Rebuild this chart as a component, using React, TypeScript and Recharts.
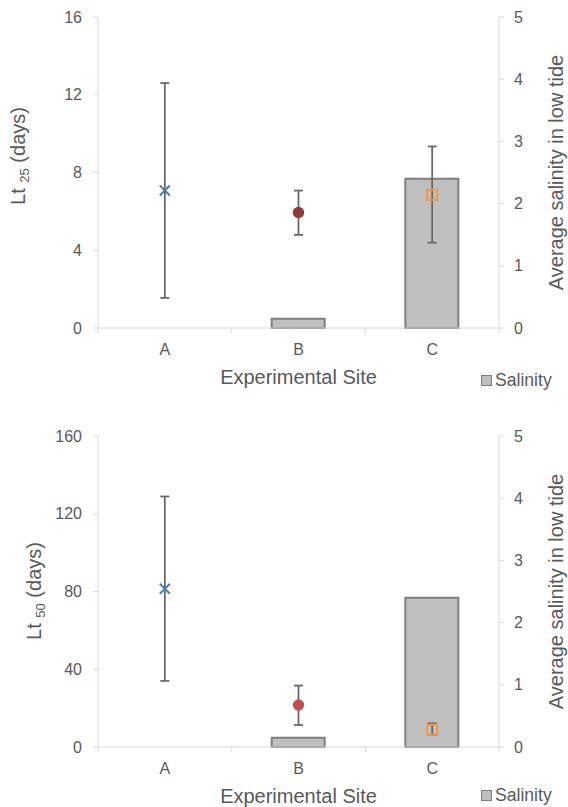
import { ComposedChart, Bar, Line, XAxis, YAxis, ErrorBar, Label, Legend } from 'recharts'

const SITES = ['A', 'B', 'C']
const SALINITY = [0, 0.15, 2.4]

const LT25 = [7.07, 5.94, 6.85]
const LT25_LOW = [1.55, 4.79, 4.39]
const LT25_HIGH = [12.6, 7.07, 9.34]
const LT25_TICKS = [0, 4, 8, 12, 16]

const LT50 = [81.4, 21.6, 8.9]
const LT50_LOW = [34.0, 11.3, 6.3]
const LT50_HIGH = [128.9, 31.6, 12.2]
const LT50_TICKS = [0, 40, 80, 120, 160]

const SALINITY_TICKS = [0, 1, 2, 3, 4, 5]

const TEXT = '#595959'
const AXIS = '#d9d9d9'
const FONT = '"Liberation Sans", Arial, sans-serif'

const W = 568
const LEFT_W = 98
const RIGHT_W = 69
const TOP = 17
const PLOT_H = 311
const BAND = (W - LEFT_W - RIGHT_W) / SITES.length

function rows(vals: number[], low: number[], high: number[]) {
  return SITES.map((site, i) => ({
    site,
    salinity: SALINITY[i],
    lt: vals[i],
    err: [vals[i] - low[i], high[i] - vals[i]],
  }))
}

const XTick = (props: any) => {
  const { x, y, payload, index } = props
  const last = index === SITES.length - 1
  return (
    <g>
      <line x1={x - BAND / 2} x2={x - BAND / 2} y1={y - 5} y2={y} stroke={AXIS} />
      {last && <line x1={x + BAND / 2} x2={x + BAND / 2} y1={y - 5} y2={y} stroke={AXIS} />}
      <text x={x} y={y + 22} textAnchor="middle" fill={TEXT} fontSize={16} fontFamily={FONT}>
        {payload.value}
      </text>
    </g>
  )
}

const makeDot = (circleColor: string) => (props: any) => {
  const { cx, cy, index } = props
  if (cx == null || cy == null) return <g key={`d${index}`} />
  if (index === 0) {
    return (
      <g key={`d${index}`} stroke="#4a7ebb" strokeWidth={2}>
        <line x1={cx - 5} y1={cy - 5} x2={cx + 5} y2={cy + 5} />
        <line x1={cx - 5} y1={cy + 5} x2={cx + 5} y2={cy - 5} />
      </g>
    )
  }
  if (index === 1) return <circle key={`d${index}`} cx={cx} cy={cy} r={5.7} fill={circleColor} />
  return (
    <rect key={`d${index}`} x={cx - 5} y={cy - 5} width={10} height={10}
      fill="none" stroke="#f79646" strokeWidth={2} />
  )
}

const Rotated = ({ x, y, children }: { x: number; y: number; children: any }) => (
  <text x={x} y={y} transform={`rotate(-90 ${x} ${y})`} textAnchor="middle"
    fill={TEXT} fontSize={20} fontFamily={FONT}>
    {children}
  </text>
)

const legendContent = (props: any) => {
  const item = (props.payload || [])[0]
  if (!item) return null
  return (
    <div style={{ display: 'flex', alignItems: 'center', lineHeight: '20px', fontFamily: FONT, fontSize: 17.6, color: TEXT }}>
      <span style={{ width: 9, height: 9, background: '#bfbfbf', border: '1px solid #7f7f7f', marginRight: 3 }} />
      <span>{item.value}</span>
    </div>
  )
}

type PanelProps = {
  height: number
  data: ReturnType<typeof rows>
  domain: [number, number]
  ticks: number[]
  sub: string
  circleColor: string
  titleX: number
  titleY: number
  legendTop: number
}

function Panel({ height, data, domain, ticks, sub, circleColor, titleX, titleY, legendTop }: PanelProps) {
  const axisY = TOP + PLOT_H
  const midY = TOP + PLOT_H / 2
  return (
    <ComposedChart width={W} height={height} data={data} margin={{ top: TOP, right: 0, bottom: 0, left: 0 }}>
      <XAxis dataKey="site" height={height - TOP - PLOT_H} interval={0} tickSize={5} tickMargin={0}
        tickLine={false} axisLine={{ stroke: AXIS }} tick={<XTick />}>
        <Label content={() => (
          <text x={LEFT_W + BAND * 1.5} y={axisY + 56} textAnchor="middle" fill={TEXT} fontSize={20} fontFamily={FONT}>
            Experimental Site
          </text>
        )} />
      </XAxis>
      <YAxis yAxisId="left" domain={domain} ticks={ticks} interval={0} width={LEFT_W}
        tickSize={5} tickMargin={11} axisLine={{ stroke: AXIS }} tickLine={{ stroke: AXIS }}
        tick={{ fill: TEXT, fontSize: 16, fontFamily: FONT }}>
        <Label content={() => (
          <Rotated x={titleX} y={titleY}>
            Lt{' '}<tspan fontSize={13} dy={4}>{sub}</tspan><tspan dy={-4}> (days)</tspan>
          </Rotated>
        )} />
      </YAxis>
      <YAxis yAxisId="right" orientation="right" domain={[0, 5]} ticks={SALINITY_TICKS} interval={0}
        width={RIGHT_W} tickSize={5} tickMargin={10} axisLine={{ stroke: AXIS }} tickLine={{ stroke: AXIS }}
        tick={{ fill: TEXT, fontSize: 16, fontFamily: FONT }}>
        <Label content={() => <Rotated x={563} y={midY}>Average salinity in low tide</Rotated>} />
      </YAxis>
      <Legend layout="vertical" align="center" verticalAlign="middle" content={legendContent}
        wrapperStyle={{ position: 'absolute', left: 481, top: legendTop, width: 'auto', height: 'auto' }} />
      <Bar yAxisId="right" dataKey="salinity" name="Salinity" barSize={53} fill="#bfbfbf"
        stroke="#7f7f7f" strokeWidth={2} isAnimationActive={false} />
      <Line yAxisId="left" dataKey="lt" stroke="none" legendType="none" dot={makeDot(circleColor)}
        activeDot={false} isAnimationActive={false}>
        <ErrorBar dataKey="err" direction="y" width={4.5} stroke="#666666" strokeWidth={1.75} />
      </Line>
    </ComposedChart>
  )
}

export default function App() {
  return (
    <div style={{ position: 'absolute', left: 0, top: 0, width: W, height: 807, overflow: 'hidden', background: '#fff' }}>
      <div style={{ position: 'absolute', left: 0, top: 0 }}>
        <Panel height={400} data={rows(LT25, LT25_LOW, LT25_HIGH)} domain={[0, 16]} ticks={LT25_TICKS}
          sub="25" circleColor="#953735" titleX={24.5} titleY={156} legendTop={370} />
      </div>
      <div style={{ position: 'absolute', left: 0, top: 419 }}>
        <Panel height={388} data={rows(LT50, LT50_LOW, LT50_HIGH)} domain={[0, 160]} ticks={LT50_TICKS}
          sub="50" circleColor="#c0504d" titleX={41.3} titleY={172} legendTop={366} />
      </div>
    </div>
  )
}
